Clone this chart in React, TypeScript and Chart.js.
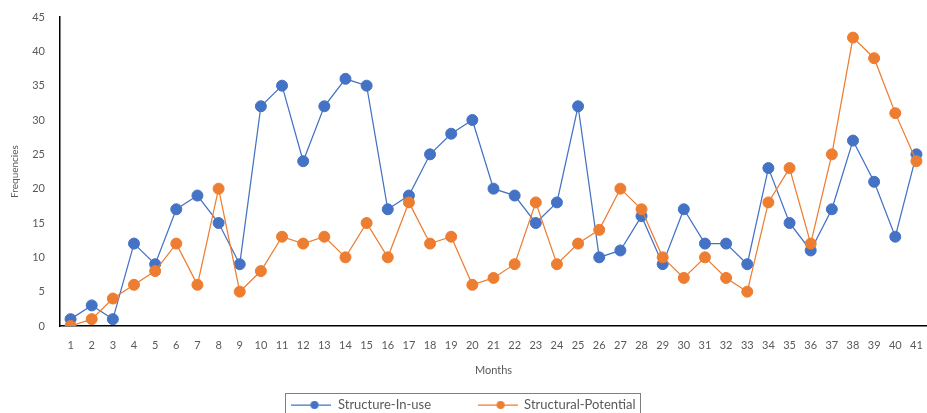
import React, { useEffect, useRef } from "react";
import { Chart, registerables } from "chart.js";

Chart.register(...registerables);

const months = [
  "1", "2", "3", "4", "5", "6", "7", "8", "9", "10",
  "11", "12", "13", "14", "15", "16", "17", "18", "19", "20",
  "21", "22", "23", "24", "25", "26", "27", "28", "29", "30",
  "31", "32", "33", "34", "35", "36", "37", "38", "39", "40", "41",
];

const structureInUse = [
  1, 3, 1, 12, 9, 17, 19, 15, 9, 32,
  35, 24, 32, 36, 35, 17, 19, 25, 28, 30,
  20, 19, 15, 18, 32, 10, 11, 16, 9, 17,
  12, 12, 9, 23, 15, 11, 17, 27, 21, 13, 25,
];

const structuralPotential = [
  0, 1, 4, 6, 8, 12, 6, 20, 5, 8,
  13, 12, 13, 10, 15, 10, 18, 12, 13, 6,
  7, 9, 18, 9, 12, 14, 20, 17, 10, 7,
  10, 7, 5, 18, 23, 12, 25, 42, 39, 31, 24,
];

const seriesNames = ["Structure-In-use", "Structural-Potential"];
const yMin = 0;
const yMax = 45;
const yStep = 5;

const BLUE = "#4472C4";
const ORANGE = "#ED7D31";
const TEXT = "#595959";
const FONT = "Lato, 'Open Sans', sans-serif";

function makeIcon(color: string): HTMLCanvasElement {
  const c = document.createElement("canvas");
  c.width = 40;
  c.height = 10;
  const ctx = c.getContext("2d")!;
  ctx.strokeStyle = color;
  ctx.lineWidth = 1.25;
  ctx.beginPath();
  ctx.moveTo(0, 5);
  ctx.lineTo(40, 5);
  ctx.stroke();
  ctx.fillStyle = color;
  ctx.beginPath();
  ctx.arc(23, 5, 4, 0, Math.PI * 2);
  ctx.fill();
  return c;
}

const legendBorder = {
  id: "legendBorder",
  afterDraw(chart: any) {
    const lg = chart.legend;
    if (!lg || !lg.legendHitBoxes || !lg.legendHitBoxes.length) return;
    const hb = lg.legendHitBoxes;
    const first = hb[0];
    const last = hb[hb.length - 1];
    const ctx = chart.ctx;
    ctx.save();
    ctx.strokeStyle = "#7F7F7F";
    ctx.lineWidth = 1;
    const left = Math.round(first.left - 6) + 0.5;
    const right = Math.round(last.left + last.width + 4) + 0.5;
    const top = Math.round(first.top - 6) + 0.5;
    ctx.strokeRect(left, top, right - left, 40);
    ctx.restore();
  },
};

export default function App() {
  const ref = useRef<HTMLCanvasElement | null>(null);

  useEffect(() => {
    document.body.style.margin = "0";
    const icons = [makeIcon(BLUE), makeIcon(ORANGE)];
    const chart = new Chart(ref.current!, {
      type: "line",
      data: {
        labels: months,
        datasets: [
          {
            label: seriesNames[0],
            data: structureInUse,
            borderColor: BLUE,
            backgroundColor: BLUE,
            borderWidth: 1.25,
            pointRadius: 5.5,
            pointBorderWidth: 1,
            pointBackgroundColor: BLUE,
            pointBorderColor: BLUE,
            tension: 0,
            order: 2,
          },
          {
            label: seriesNames[1],
            data: structuralPotential,
            borderColor: ORANGE,
            backgroundColor: ORANGE,
            borderWidth: 1.25,
            pointRadius: 5.5,
            pointBorderWidth: 1,
            pointBackgroundColor: ORANGE,
            pointBorderColor: ORANGE,
            tension: 0,
            order: 1,
          },
        ],
      },
      options: {
        animation: false,
        responsive: true,
        maintainAspectRatio: false,
        layout: {
          autoPadding: false,
          padding: { top: 17, left: 0, right: 0, bottom: -8.5 },
        },
        plugins: {
          tooltip: { enabled: false },
          legend: {
            position: "bottom",
            labels: {
              usePointStyle: true,
              pointStyleWidth: 40,
              padding: 10,
              color: TEXT,
              font: { family: FONT, size: 13 },
              generateLabels: () =>
                seriesNames.map((name, i) => ({
                  text: i === 0 ? name + "           " : name,
                  pointStyle: icons[i],
                  fillStyle: i === 0 ? BLUE : ORANGE,
                  strokeStyle: i === 0 ? BLUE : ORANGE,
                  fontColor: TEXT,
                  lineWidth: 0,
                  hidden: false,
                  datasetIndex: i,
                })),
            },
          },
        },
        scales: {
          x: {
            type: "category",
            offset: true,
            grid: { display: false, drawTicks: false },
            border: { display: true, color: "#000", width: 1.5 },
            ticks: {
              color: TEXT,
              font: { family: FONT, size: 11 },
              padding: 13,
              maxRotation: 0,
              autoSkip: false,
            },
            title: {
              display: true,
              text: "Months",
              color: TEXT,
              font: { family: FONT, size: 11 },
              padding: { top: 0, bottom: 11 },
            },
            afterFit: (s: any) => {
              s.height = 62.5;
              s.paddingLeft = 0;
              s.paddingRight = 0;
            },
          },
          y: {
            min: yMin,
            max: yMax,
            grid: { display: false, drawTicks: false },
            border: { display: true, color: "#000", width: 1.5 },
            ticks: {
              stepSize: yStep,
              color: TEXT,
              font: { family: FONT, size: 11 },
              padding: 15,
            },
            title: {
              display: true,
              text: "Frequencies",
              color: TEXT,
              font: { family: FONT, size: 10 },
              padding: { top: 9, bottom: 0 },
            },
            afterFit: (s: any) => {
              s.width = 60;
              s.paddingTop = 0;
              s.paddingBottom = 0;
            },
          },
        },
      },
      plugins: [legendBorder],
    });
    return () => chart.destroy();
  }, []);

  return (
    <div style={{ position: "relative", width: 927, height: 413 }}>
      <canvas ref={ref} />
    </div>
  );
}
